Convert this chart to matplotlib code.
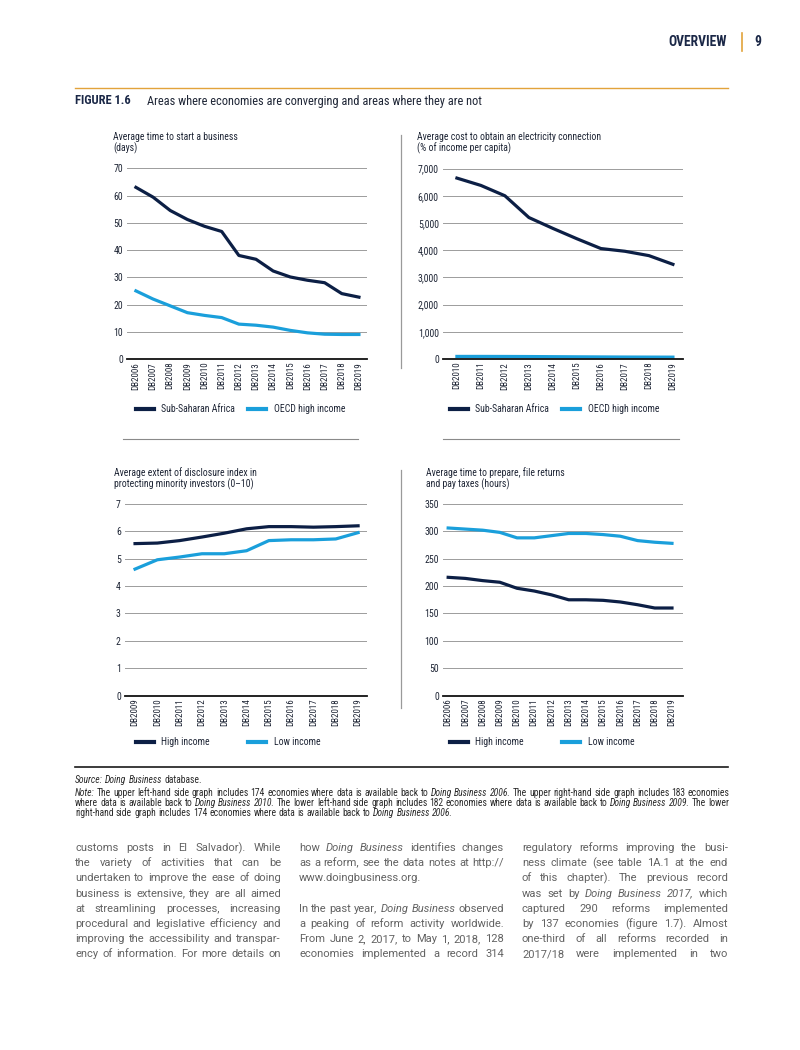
import matplotlib
matplotlib.use("Agg")
import matplotlib.pyplot as plt
from matplotlib import font_manager
from matplotlib.lines import Line2D
import numpy as np

W, H = 800, 1050

installed = {f.name for f in font_manager.fontManager.ttflist}

def pick(*names):
    for n in names:
        if n in installed:
            return n
    return 'DejaVu Sans'

NARROW = pick('Liberation Sans Narrow', 'Roboto Condensed', 'Open Sans Condensed', 'Liberation Sans')
BODY = pick('Roboto', 'Open Sans', 'Noto Sans')
plt.rcParams['font.family'] = [NARROW, 'DejaVu Sans']

DARK = '#0c1f45'
LIGHT = '#1a9fdb'
GOLD = '#e2a33b'
TXT = '#1f2636'

# --- data ---
years_a = ['DB2006', 'DB2007', 'DB2008', 'DB2009', 'DB2010', 'DB2011', 'DB2012',
           'DB2013', 'DB2014', 'DB2015', 'DB2016', 'DB2017', 'DB2018', 'DB2019']
start_ssa = [63, 59.4, 54.5, 51.2, 48.7, 46.8, 38, 36.6, 32.3, 30.1, 28.9, 28, 24, 22.7]
start_oecd = [25, 22, 19.5, 17, 16, 15.2, 12.8, 12.4, 11.7, 10.5, 9.6, 9.1, 9.0, 9.0]

years_b = years_a[4:]
elec_ssa = [6650, 6380, 6000, 5200, 4800, 4420, 4060, 3960, 3800, 3480]
elec_oecd = [95, 95, 93, 90, 85, 80, 76, 72, 70, 68]

years_c = years_a[3:]
disc_high = [5.55, 5.57, 5.66, 5.79, 5.93, 6.09, 6.17, 6.17, 6.15, 6.17, 6.20]
disc_low = [4.62, 4.96, 5.06, 5.18, 5.18, 5.29, 5.66, 5.69, 5.69, 5.72, 5.95]

tax_high = [216, 214, 210, 207, 196, 191, 184, 175, 175, 174, 171, 166, 160, 160]
tax_low = [306, 304, 302, 298, 288, 288, 292, 296, 296, 294, 291, 283, 280, 278]

fig = plt.figure(figsize=(W / 100, H / 100), dpi=100)
renderer = fig.canvas.get_renderer()


def fx(x):
    return x / W


def fy(y):
    return 1 - y / H


def hline(x0, x1, y, color, lw):
    fig.add_artist(Line2D([fx(x0), fx(x1)], [fy(y), fy(y)], color=color, lw=lw,
                          transform=fig.transFigure))


def vline(x, y0, y1, color, lw):
    fig.add_artist(Line2D([fx(x), fx(x)], [fy(y0), fy(y1)], color=color, lw=lw,
                          transform=fig.transFigure))


def panel(box, labels, hi, lo, ymax, ystep, pad, fmt):
    l, t, r, b = box
    ax = fig.add_axes([fx(l), fy(b), (r - l) / W, (b - t) / H])
    x = np.arange(len(labels))
    ax.plot(x, hi, color=DARK, lw=2.3, solid_joinstyle='round')
    ax.plot(x, lo, color=LIGHT, lw=2.3, solid_joinstyle='round')
    ax.set_xlim(-pad[0], len(labels) - 1 + pad[1])
    ax.set_ylim(0, ymax * 1.003)
    ticks = np.arange(0, ymax + ystep / 2, ystep)
    ax.set_yticks(ticks)
    ax.set_yticklabels([fmt(v) for v in ticks])
    ax.set_xticks(x)
    ax.set_xticklabels(labels, rotation=90)
    ax.tick_params(axis='y', length=0, labelsize=7, colors=TXT, pad=3)
    ax.tick_params(axis='x', length=0, labelsize=6.5, colors=TXT, pad=2)
    ax.grid(axis='y', color='#9c9c9c', lw=0.7)
    ax.set_axisbelow(True)
    for s in ['top', 'right', 'left']:
        ax.spines[s].set_visible(False)
    ax.spines['bottom'].set_color('#111111')
    ax.spines['bottom'].set_linewidth(1.3)
    ax.patch.set_alpha(0)
    return ax


def legend(x0, y, name1, name2):
    hline(x0, x0 + 18, y, DARK, 3)
    fig.text(fx(x0 + 25), fy(y), name1, fontsize=7, color=TXT, va='center')
    hline(x0 + 112, x0 + 130, y, LIGHT, 3)
    fig.text(fx(x0 + 138), fy(y), name2, fontsize=7, color=TXT, va='center')


def title(x, y, lines):
    for i, s in enumerate(lines):
        fig.text(fx(x), fy(y + i * 11.5), s, fontsize=7, color=TXT, va='center')


def make_words(line, size, color, family, weight):
    words = []
    for w in line.split():
        ital = '*' in w
        w = w.replace('*', '')
        t = fig.text(0, 0, w, fontsize=size, color=color, family=family, weight=weight,
                     style='italic' if ital else 'normal', va='baseline')
        words.append((t, t.get_window_extent(renderer).width))
    a = fig.text(0, 0, 'xx', fontsize=size, family=family, weight=weight)
    b = fig.text(0, 0, 'x x', fontsize=size, family=family, weight=weight)
    space = b.get_window_extent(renderer).width - a.get_window_extent(renderer).width
    a.remove()
    b.remove()
    return words, space


def natural_width(line, size, family, weight='normal'):
    words, space = make_words(line, size, 'k', family, weight)
    for t, _ in words:
        t.remove()
    return sum(wd for _, wd in words) + space * (len(words) - 1)


def put_words(line, x0, x1, y, size, color, family, justify, weight='normal'):
    words, space = make_words(line, size, color, family, weight)
    total = sum(wd for _, wd in words)
    gap = space
    if justify and len(words) > 1:
        gap = (x1 - x0 - total) / (len(words) - 1)
    x = x0
    for t, wd in words:
        t.set_position((fx(x), fy(y)))
        x += wd + gap


int_fmt = lambda v: f'{int(v)}'
comma_fmt = lambda v: f'{int(v):,}'

# --- header ---
fig.text(fx(727), fy(42), 'OVERVIEW', fontsize=9.8, weight='bold', color='#1b2847',
         ha='right', va='center')
vline(742, 33, 51, GOLD, 1.2)
fig.text(fx(754), fy(42), '9', fontsize=9.8, weight='bold', color='#1b2847', va='center')
hline(75, 728, 88, GOLD, 1)
fig.text(fx(75), fy(101), 'FIGURE 1.6', fontsize=9, weight='bold', color='#1b2847',
         va='center')
fig.text(fx(147), fy(101), 'Areas where economies are converging and areas where they are not',
         fontsize=8.9, color='#1f2636', va='center')

# --- panels ---
title(113, 137, ['Average time to start a business', '(days)'])
panel((127, 167.7, 367, 359), years_a, start_ssa, start_oecd, 70, 10, (0.52, 0.47), int_fmt)
legend(136, 409, 'Sub-Saharan Africa', 'OECD high income')
hline(123, 358, 439, '#8a8a8a', 0.8)

title(417, 137, ['Average cost to obtain an electricity connection', '(% of income per capita)'])
panel((443, 168, 683, 359), years_b, elec_ssa, elec_oecd, 7000, 1000, (0.58, 0.42), comma_fmt)
legend(450, 409, 'Sub-Saharan Africa', 'OECD high income')
hline(443, 679, 439, '#8a8a8a', 0.8)
vline(401, 135, 368, '#9a9a9a', 0.9)

title(114, 473, ['Average extent of disclosure index in',
                 'protecting minority investors (0\u201310)'])
panel((125, 503.3, 367, 695.7), years_c, disc_high, disc_low, 7, 1, (0.45, 0.4), int_fmt)
legend(136, 742, 'High income', 'Low income')

title(426, 473, ['Average time to prepare, file returns', 'and pay taxes (hours)'])
panel((443, 503.3, 683, 695.7), years_a, tax_high, tax_low, 350, 50, (0.3, 0.64), int_fmt)
legend(450, 742, 'High income', 'Low income')
vline(401, 470, 708, '#9a9a9a', 0.9)

# --- source and note ---
hline(75, 728, 767, '#1a1a1a', 1.2)
note_lines = [
    '*Note:* The upper left-hand side graph includes 174 economies where data is available back to '
    '*Doing* *Business* *2006*. The upper right-hand side graph includes 183 economies',
    'where data is available back to *Doing* *Business* *2010*. The lower left-hand side graph '
    'includes 182 economies where data is available back to *Doing* *Business* *2009*. The lower',
    'right-hand side graph includes 174 economies where data is available back to '
    '*Doing* *Business* *2006*.',
]
note_size = 6.3 * 655 / natural_width(note_lines[0], 6.3, NARROW)
put_words('*Source:* *Doing* *Business* database.', 75, 728, 783, note_size, '#2a2a2a',
          NARROW, False)
for i, s in enumerate(note_lines):
    put_words(s, 75, 728, 795.5 + i * 10.5, note_size, '#2a2a2a', NARROW, False)

# --- body text ---
col1 = [
    'customs posts in El Salvador). While',
    'the variety of activities that can be',
    'undertaken to improve the ease of doing',
    'business is extensive, they are all aimed',
    'at streamlining processes, increasing',
    'procedural and legislative efficiency and',
    'improving the accessibility and transpar-',
    'ency of information. For more details on',
]
col2 = [
    'how *Doing* *Business* identifies changes',
    'as a reform, see the data notes at http://',
    'www.doingbusiness.org.',
    '',
    'In the past year, *Doing* *Business* observed',
    'a peaking of reform activity worldwide.',
    'From June 2, 2017, to May 1, 2018, 128',
    'economies implemented a record 314',
]
col3 = [
    'regulatory reforms improving the busi-',
    'ness climate (see table 1A.1 at the end',
    'of this chapter). The previous record',
    'was set by *Doing* *Business* *2017*, which',
    'captured 290 reforms implemented',
    'by 137 economies (figure 1.7). Almost',
    'one-third of all reforms recorded in',
    '2017/18 were implemented in two',
]
widest = max(natural_width(s, 8, BODY) for s in col1 + col2 + col3 if s)
body_size = 8 * 205 / widest
for (x0, x1), col in [((75, 281), col1), ((299, 504), col2), ((522, 728), col3)]:
    for i, s in enumerate(col):
        if s:
            put_words(s, x0, x1, 851 + i * 15.2, body_size, '#626262', BODY,
                      not s.endswith('.org.'))

fig.savefig('out.png', dpi=100)
